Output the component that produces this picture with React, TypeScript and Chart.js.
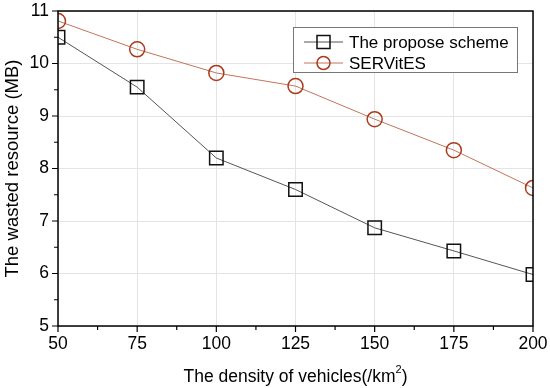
import React, { useEffect, useRef } from "react";
import { Chart, registerables } from "chart.js";

Chart.register(...registerables);

const densities = [50, 75, 100, 125, 150, 175, 200];
const proposedScheme = [10.5, 9.55, 8.2, 7.6, 6.87, 6.43, 5.98];
const servites = [10.81, 10.27, 9.82, 9.57, 8.94, 8.35, 7.63];
const seriesNames = ["The propose scheme", "SERVitES"];
const xTicks = [50, 75, 100, 125, 150, 175, 200];
const yTicks = [5, 6, 7, 8, 9, 10, 11];

const FONT = "Arial, 'Liberation Sans', sans-serif";

const axesPlugin = {
  id: "axesPlugin",
  afterDraw(chart: any) {
    const ctx = chart.ctx;
    const { left, right, top, bottom } = chart.chartArea;
    const xs = chart.scales.x;
    const ys = chart.scales.y;
    ctx.save();
    ctx.strokeStyle = "#000";
    ctx.lineWidth = 1.5;
    ctx.strokeRect(left, top, right - left, bottom - top);
    ctx.lineWidth = 1.2;
    ctx.beginPath();
    for (let v = 50; v <= 200.001; v += 12.5) {
      const px = xs.getPixelForValue(v);
      const major = Math.abs((v - 50) % 25) < 0.01;
      ctx.moveTo(px, bottom);
      ctx.lineTo(px, bottom + (major ? 6 : 4));
    }
    for (let v = 5; v <= 11.001; v += 0.5) {
      const py = ys.getPixelForValue(v);
      const major = Math.abs(v - Math.round(v)) < 0.01;
      ctx.moveTo(left, py);
      ctx.lineTo(left - (major ? 6 : 4), py);
    }
    ctx.stroke();

    // legend
    const lx = 293, ly = 27, lw = 224, lh = 45;
    ctx.fillStyle = "#fff";
    ctx.fillRect(lx, ly, lw, lh);
    ctx.strokeStyle = "#777";
    ctx.lineWidth = 1;
    ctx.strokeRect(lx + 0.5, ly + 0.5, lw, lh);
    const items = [
      { label: seriesNames[0], line: "#555", mark: "#111", style: "rect" },
      { label: seriesNames[1], line: "#c5735a", mark: "#a83b1c", style: "circle" },
    ];
    items.forEach((it, i) => {
      const cy = ly + 15 + i * 21;
      ctx.strokeStyle = it.line;
      ctx.lineWidth = 1;
      ctx.beginPath();
      ctx.moveTo(lx + 11, cy);
      ctx.lineTo(lx + 50, cy);
      ctx.stroke();
      ctx.strokeStyle = it.mark;
      ctx.lineWidth = 1.5;
      ctx.beginPath();
      if (it.style === "rect") ctx.rect(lx + 24, cy - 6.5, 13, 13);
      else ctx.arc(lx + 30.5, cy, 6.5, 0, Math.PI * 2);
      ctx.stroke();
      ctx.fillStyle = "#000";
      ctx.font = `17px ${FONT}`;
      ctx.textBaseline = "middle";
      ctx.textAlign = "left";
      ctx.fillText(it.label, lx + 56, cy + 1);
    });

    // x title with superscript
    ctx.fillStyle = "#000";
    ctx.font = `17.5px ${FONT}`;
    ctx.textBaseline = "alphabetic";
    const t1 = "The density of vehicles(/km";
    const t2 = ")";
    const w1 = ctx.measureText(t1).width;
    ctx.font = `11px ${FONT}`;
    const ws = ctx.measureText("2").width;
    ctx.font = `17.5px ${FONT}`;
    const w2 = ctx.measureText(t2).width;
    const total = w1 + ws + w2;
    const cx = (left + right) / 2;
    const sx = cx - total / 2;
    const by = 382;
    ctx.textAlign = "left";
    ctx.fillText(t1, sx, by);
    ctx.font = `11px ${FONT}`;
    ctx.fillText("2", sx + w1, by - 9);
    ctx.font = `17.5px ${FONT}`;
    ctx.fillText(t2, sx + w1 + ws, by);
    ctx.restore();
  },
};

export default function App() {
  const ref = useRef<HTMLCanvasElement>(null);
  useEffect(() => {
    const chart = new Chart(ref.current!, {
      type: "line",
      data: {
        datasets: [
          {
            label: seriesNames[0],
            data: densities.map((d, i) => ({ x: d, y: proposedScheme[i] })),
            borderColor: "#555",
            borderWidth: 1,
            pointStyle: "rect",
            pointRadius: 9.5,
            pointBorderColor: "#111",
            pointBorderWidth: 1.5,
            pointBackgroundColor: "rgba(0,0,0,0)",
            tension: 0,
          },
          {
            label: seriesNames[1],
            data: densities.map((d, i) => ({ x: d, y: servites[i] })),
            borderColor: "#c5735a",
            borderWidth: 1,
            pointStyle: "circle",
            pointRadius: 7.5,
            pointBorderColor: "#a83b1c",
            pointBorderWidth: 1.5,
            pointBackgroundColor: "rgba(0,0,0,0)",
            tension: 0,
          },
        ],
      },
      options: {
        animation: false,
        responsive: false,
        maintainAspectRatio: false,
        layout: { padding: { top: 11, right: 17, left: 0, bottom: 0 } },
        plugins: { legend: { display: false }, tooltip: { enabled: false } },
        scales: {
          x: {
            type: "linear",
            min: 50,
            max: 200,
            afterBuildTicks: (s: any) => {
              s.ticks = xTicks.map((v) => ({ value: v }));
            },
            afterFit: (s: any) => {
              s.height = 62;
              s.paddingLeft = 0;
              s.paddingRight = 0;
            },
            grid: { color: "#e4e4e4", drawTicks: false, lineWidth: 1 },
            border: { display: false },
            ticks: {
              color: "#000",
              font: { family: FONT, size: 17.5 },
              padding: 8,
              maxRotation: 0,
              autoSkip: false,
            },
          },
          y: {
            type: "linear",
            min: 5,
            max: 11,
            afterBuildTicks: (s: any) => {
              s.ticks = yTicks.map((v) => ({ value: v }));
            },
            afterFit: (s: any) => {
              s.width = 58;
              s.paddingTop = 0;
              s.paddingBottom = 0;
            },
            grid: { color: "#e4e4e4", drawTicks: false, lineWidth: 1 },
            border: { display: false },
            ticks: {
              color: "#000",
              font: { family: FONT, size: 17.5 },
              padding: 9,
            },
            title: {
              display: true,
              text: "The wasted resource (MB)",
              color: "#000",
              font: { family: FONT, size: 18.5 },
              padding: { top: 2, bottom: 0 },
            },
          },
        },
      },
      plugins: [axesPlugin],
    } as any);
    return () => chart.destroy();
  }, []);
  return (
    <div style={{ position: "fixed", left: 0, top: 0, width: 550, height: 388, background: "#fff" }}>
      <canvas ref={ref} width={550} height={388} style={{ width: 550, height: 388 }} />
    </div>
  );
}
